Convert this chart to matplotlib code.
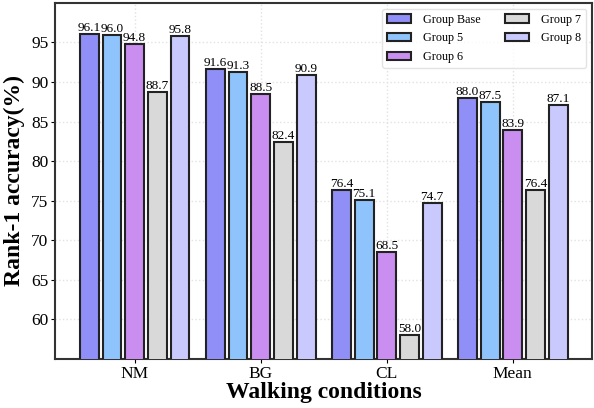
import matplotlib
matplotlib.use("Agg")
import matplotlib.pyplot as plt
import numpy as np

plt.rcParams['font.family'] = ['Liberation Serif', 'DejaVu Serif']

conditions = ['NM', 'BG', 'CL', 'Mean']
groups = ['Group Base', 'Group 5', 'Group 6', 'Group 7', 'Group 8']
values = {
    'Group Base': [96.1, 91.6, 76.4, 88.0],
    'Group 5': [96.0, 91.3, 75.1, 87.5],
    'Group 6': [94.8, 88.5, 68.5, 83.9],
    'Group 7': [88.7, 82.4, 58.0, 76.4],
    'Group 8': [95.8, 90.9, 74.7, 87.1],
}
colors = ['#8f8ff7', '#8ec3fb', '#c98ef0', '#d9d9d9', '#c9c9fd']

fig, ax = plt.subplots(figsize=(5.94, 4.08), dpi=100)
x = np.arange(len(conditions))
width = 0.15
step = 0.18

for i, g in enumerate(groups):
    pos = x + (i - 2) * step
    bars = ax.bar(pos, values[g], width, color=colors[i], edgecolor='#222222',
                  linewidth=1.5, label=g, zorder=3)
    for b, v in zip(bars, values[g]):
        ax.text(b.get_x() + b.get_width() / 2, v, f'{v:.1f}', ha='center',
                va='bottom', fontsize=9.5, zorder=4)

ax.set_ylim(55, 100)
ax.set_xlim(-0.63, 3.63)
ax.set_yticks([60, 65, 70, 75, 80, 85, 90, 95])
ax.set_xticks(x)
ax.set_xticklabels(conditions)
ax.tick_params(labelsize=12.5, length=3, pad=2)
ax.grid(True, linestyle=':', color='#e2e2e2', linewidth=1.0, zorder=0)
for s in ax.spines.values():
    s.set_linewidth(1.5)
    s.set_color('#333333')

ax.set_xlabel('Walking conditions', fontsize=17, fontweight='bold', labelpad=0)
ax.set_ylabel('Rank-1 accuracy(%)', fontsize=17, fontweight='bold')
leg = ax.legend(ncol=2, loc='upper right', fontsize=8.7, frameon=True,
                columnspacing=2.0, handlelength=2.0, handletextpad=1.0,
                labelspacing=0.55, borderaxespad=0.5)
leg.get_frame().set_edgecolor('#dddddd')

plt.subplots_adjust(left=0.093, right=0.997, top=0.993, bottom=0.12)
fig.savefig('out.png', dpi=100)
